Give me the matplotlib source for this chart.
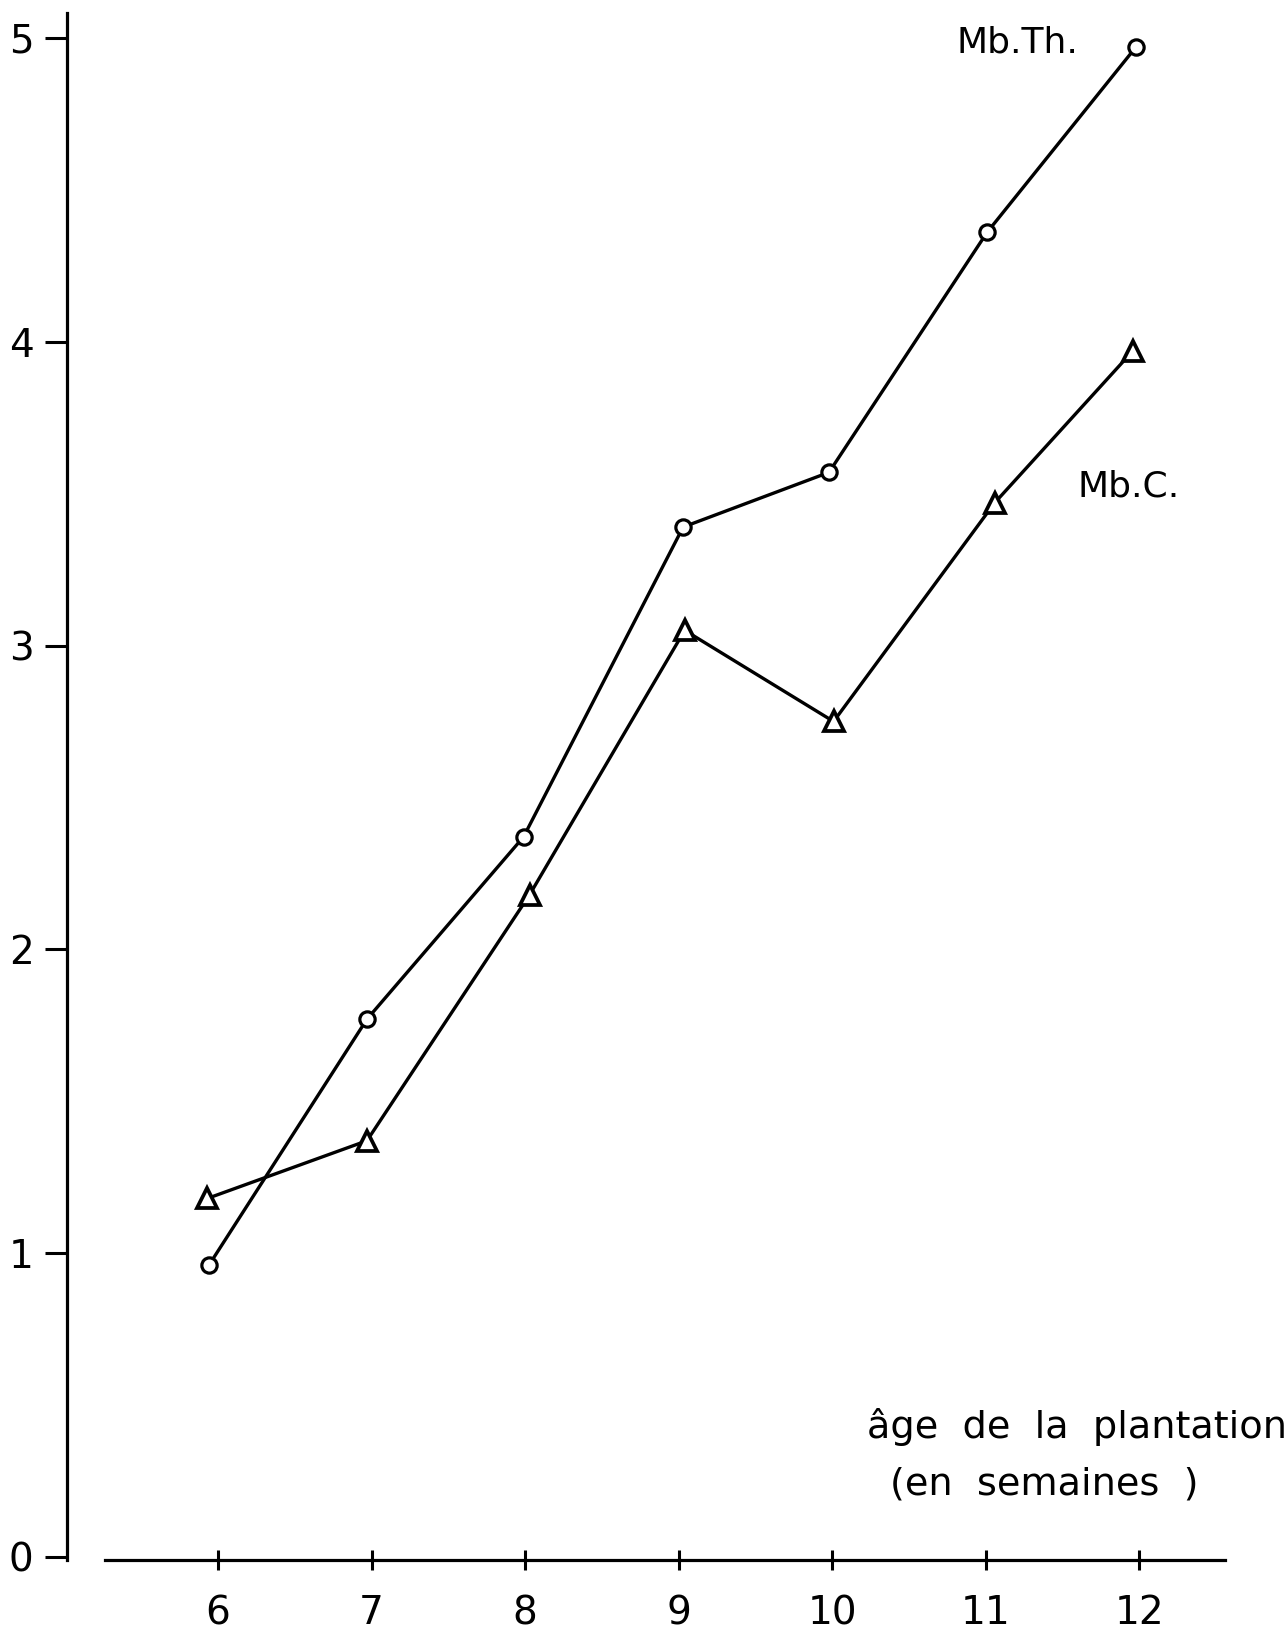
import numpy as np
import matplotlib.pyplot as plt

# age of the plantation (weeks)
weeks = [6, 7, 8, 9, 10, 11, 12]

# Mb.Th. (open circles) - x read a little off the ticks as drawn
th_x = [5.94, 6.97, 7.99, 9.03, 9.98, 11.01, 11.98]
th_y = [0.96, 1.77, 2.37, 3.39, 3.57, 4.36, 4.97]

# Mb.C. (open triangles)
c_x = [5.93, 6.97, 8.03, 9.04, 10.01, 11.06, 11.96]
c_y = [1.18, 1.37, 2.18, 3.05, 2.75, 3.47, 3.97]

y_ticks = [0, 1, 2, 3, 4, 5]

fig = plt.figure(figsize=(12.88, 16.35), dpi=100)
W, H = 1288, 1635
# axes box in pixels: left 67, right 1225, top 13, bottom 1560
ax = fig.add_axes([67 / W, 1 - 1560 / H, (1225 - 67) / W, (1560 - 13) / H])

lw = 2.4
ax.plot(th_x, th_y, color="black", lw=lw, marker="o", ms=11,
        mfc="white", mec="black", mew=2.3, zorder=3)
ax.plot(c_x, c_y, color="black", lw=lw, marker="^", ms=14,
        mfc="white", mec="black", mew=2.7, zorder=3)

ax.set_xlim(5.016, 12.56)
ax.set_ylim(-0.01, 5.082)

for s in ["top", "right"]:
    ax.spines[s].set_visible(False)
ax.spines["left"].set_linewidth(2.3)
ax.spines["bottom"].set_linewidth(2.3)
ax.spines["bottom"].set_bounds(5.264, 12.56)
ax.spines["bottom"].set_position(("data", -0.01))

ax.set_yticks(y_ticks)
ax.set_yticklabels([str(v) for v in y_ticks])
ax.set_xticks(weeks)
ax.set_xticklabels([str(w) for w in weeks])
ax.tick_params(axis="y", direction="out", length=16, width=2.2, pad=8,
               labelsize=28)
ax.tick_params(axis="x", direction="inout", length=15, width=2.2, pad=17,
               labelsize=28)

ax.text(11.205, 4.984, "Mb.Th.", fontsize=26, ha="center", va="center")
ax.text(11.93, 3.522, "Mb.C.", fontsize=26, ha="center", va="center")
ax.text(10.228, 0.427, "âge  de  la  plantation", fontsize=27.5,
        ha="left", va="center")
ax.text(10.378, 0.240, "(en  semaines  )", fontsize=27.5,
        ha="left", va="center")

fig.savefig("out.png", dpi=100, facecolor="white")
